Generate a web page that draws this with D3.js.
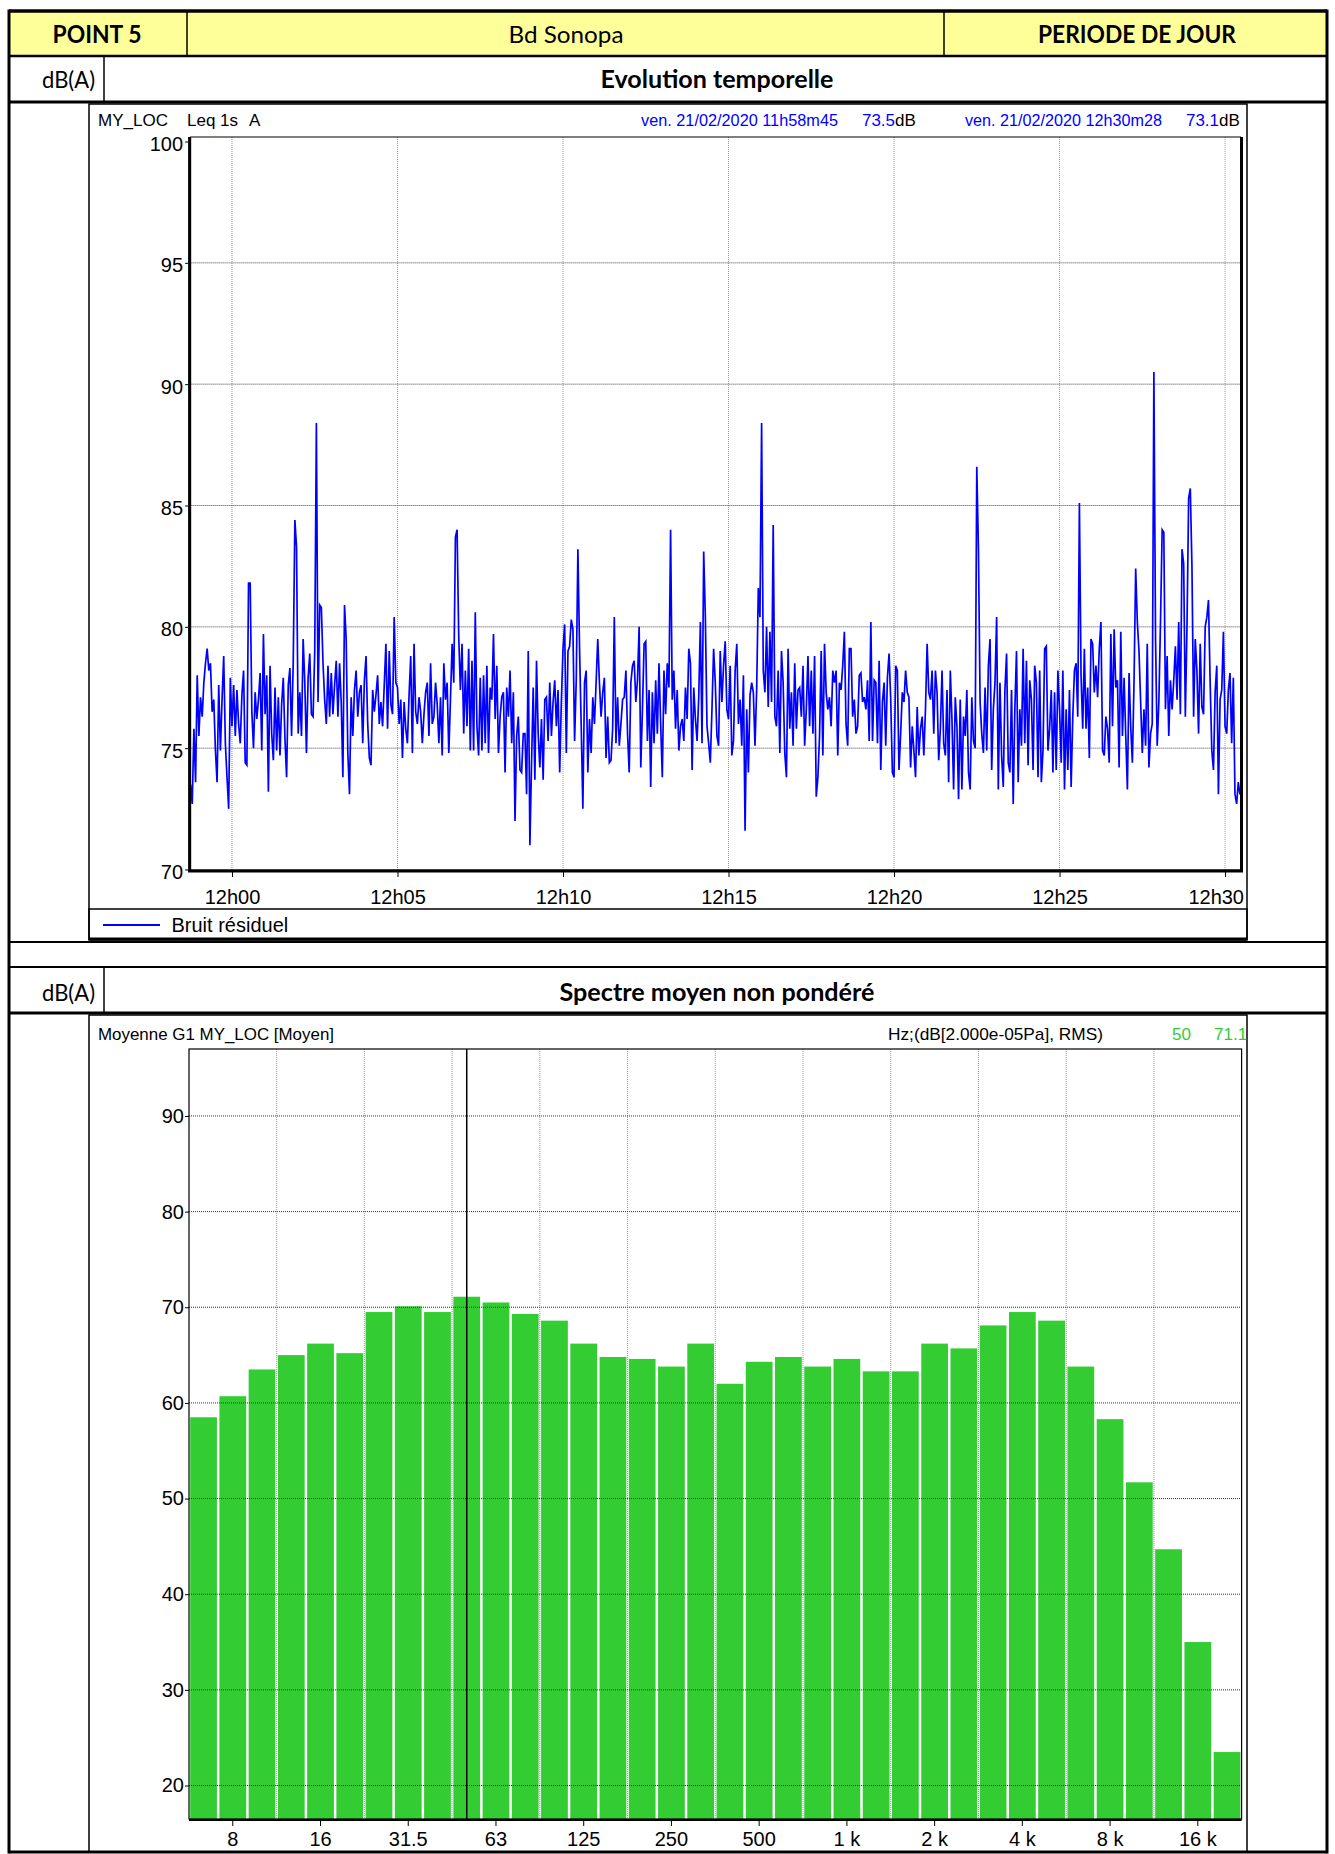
<!DOCTYPE html>
<html><head><meta charset="utf-8">
<script src="https://cdn.jsdelivr.net/npm/d3@7"></script>
<style>
html,body{margin:0;padding:0;background:#fff;}
svg{display:block;}
</style></head>
<body>
<svg id="page" width="1335" height="1854"></svg>
<script>
// ---------- sheet header ----------
const pointLabel = "POINT 5";
const siteLabel = "Bd Sonopa";
const periodLabel = "PERIODE DE JOUR";
const unitLabel = "dB(A)";
const timeTitle = "Evolution temporelle";
const spectrumTitle = "Spectre moyen non pondéré";

// ---------- time history (Leq 1s, A-weighted) ----------
const timeHeader = ["MY_LOC", "Leq 1s", "A"];
const cursorA = {date: "ven. 21/02/2020 11h58m45", level: "73.5"};
const cursorB = {date: "ven. 21/02/2020 12h30m28", level: "73.1"};
const startTime = "2020-02-21T11:58:45";
const endTime = "2020-02-21T12:30:28";
const sampleStep = 3; // seconds between stored levels
const leqLevels = [
 73.5,72.7,75.8,73.6,78.0,75.5,77.1,76.3,77.7,78.5,
 79.1,78.2,78.5,76.5,77.0,74.9,73.6,77.6,74.9,77.0,
 78.8,75.2,73.8,72.5,77.9,75.9,77.6,75.5,77.4,76.0,
 75.2,77.2,78.2,74.4,74.3,81.8,81.8,76.5,75.0,77.3,
 76.2,77.0,78.1,74.9,79.7,76.4,78.0,73.2,78.4,75.6,
 74.5,77.5,74.9,77.1,74.7,76.8,77.9,75.4,73.8,77.6,
 78.3,75.5,78.5,84.4,83.3,75.6,77.3,75.5,79.5,77.7,
 74.8,77.9,78.9,76.4,76.3,79.0,88.4,76.9,80.9,80.8,
 78.5,77.0,76.0,78.4,76.3,78.1,76.4,77.6,78.6,76.3,
 78.5,76.9,73.8,80.9,79.5,74.8,73.1,77.1,75.5,77.4,
 78.2,76.3,77.3,77.6,75.2,77.8,78.8,76.0,74.6,74.3,
 77.4,76.5,77.2,78.0,76.0,76.9,75.9,77.6,79.3,75.8,
 79.0,76.8,76.4,80.4,77.7,77.5,76.0,77.0,74.6,76.9,
 75.8,75.2,77.2,78.8,74.8,79.3,76.5,76.0,77.1,76.5,
 75.2,76.4,77.3,77.7,75.5,78.5,76.0,76.3,77.7,76.8,
 75.2,77.1,74.7,78.5,77.0,77.7,74.8,77.0,79.3,77.7,
 83.7,84.0,79.6,77.4,79.3,75.6,78.2,75.9,79.1,74.9,
 78.6,74.9,80.6,75.9,74.7,77.9,74.9,78.0,75.2,78.4,
 74.8,77.5,77.0,79.7,76.2,78.4,74.8,76.3,77.1,77.3,
 74.0,77.5,76.3,78.2,75.2,77.3,72.0,75.5,76.3,74.1,
 74.0,75.6,75.6,73.1,79.0,71.0,74.4,77.5,73.7,78.6,
 75.6,74.2,76.2,73.7,77.0,77.1,75.3,77.7,75.5,76.9,
 77.8,75.9,77.4,74.0,76.9,79.1,80.1,74.8,79.0,79.2,
 80.3,79.9,75.3,77.8,83.2,79.1,75.9,72.5,77.7,78.2,
 74.0,76.2,74.8,77.1,76.0,77.7,79.5,77.7,76.3,77.3,
 77.9,74.6,76.3,74.4,74.5,75.8,80.4,75.2,77.1,75.1,
 76.0,77.0,77.1,78.2,75.6,74.0,77.7,78.4,78.6,76.9,
 77.8,80.0,74.2,76.6,79.3,79.4,75.3,77.4,73.4,77.3,
 75.2,77.8,75.6,78.5,76.0,73.8,78.2,76.4,78.5,77.5,
 84.0,77.0,78.2,75.8,77.4,74.9,75.9,76.2,75.3,77.5,
 76.2,79.1,78.5,74.1,77.5,76.2,75.3,77.1,80.2,75.2,
 83.1,80.4,75.9,75.2,74.4,76.6,79.1,77.7,75.5,75.1,
 79.0,76.9,78.4,79.4,76.6,76.2,78.4,74.7,75.3,78.2,
 79.3,76.0,77.0,75.1,78.0,71.6,76.6,74.0,77.2,77.7,
 77.3,75.1,77.4,81.6,80.4,88.4,78.2,77.3,80.0,76.7,
 79.8,76.9,84.2,76.3,75.9,78.2,74.8,79.0,77.7,74.8,
 73.8,79.1,75.8,77.3,75.1,78.5,75.8,77.4,77.5,76.3,
 78.4,75.1,76.6,78.8,75.9,78.2,75.6,78.8,73.0,73.8,
 75.5,79.0,74.7,79.3,77.3,76.6,77.1,75.9,78.2,77.7,
 78.2,74.7,77.7,77.4,78.4,79.8,76.0,75.1,79.1,79.1,
 76.3,77.0,75.6,75.9,78.0,78.1,76.9,77.1,76.6,77.8,
 75.3,80.2,75.3,77.8,77.7,75.2,78.6,74.1,76.9,77.7,
 75.1,77.9,78.9,77.0,74.0,73.8,78.4,78.2,74.1,75.6,
 77.3,76.9,78.2,77.3,77.1,74.2,75.9,74.9,73.8,76.7,
 74.7,75.8,76.3,74.7,76.6,79.3,77.3,77.0,78.2,75.6,
 78.2,77.3,74.5,75.8,78.2,75.2,74.7,77.4,73.6,78.2,
 76.2,73.3,77.1,75.9,72.9,77.0,73.3,76.3,75.5,77.4,
 74.0,73.3,77.1,75.3,75.0,86.6,83.2,76.9,75.6,74.8,
 77.5,74.9,78.4,79.5,74.1,76.6,77.7,80.4,73.3,77.7,
 74.7,73.4,77.4,78.9,74.4,74.0,77.4,72.7,76.6,79.0,
 73.6,76.6,75.1,79.1,75.2,78.6,74.3,77.8,77.0,74.1,
 78.4,77.7,73.8,78.2,73.6,74.9,79.1,79.2,74.9,75.8,
 77.4,74.0,77.3,74.1,78.2,76.6,74.4,78.2,73.3,76.6,
 74.1,77.4,73.4,76.3,78.2,78.5,76.3,85.1,78.0,75.8,
 79.1,75.8,77.5,74.6,79.5,79.3,77.3,78.4,77.1,79.1,
 80.2,74.9,74.7,76.3,75.8,74.4,79.7,75.9,79.9,77.5,
 77.8,74.2,79.8,75.5,77.9,75.5,73.3,78.1,75.9,74.4,
 77.7,82.4,80.2,79.0,76.9,74.8,76.6,75.1,79.3,74.2,
 75.6,76.0,90.5,79.5,75.1,76.9,80.2,84.0,83.9,76.6,
 78.8,75.5,77.8,76.6,77.8,79.2,77.0,80.2,76.4,83.2,
 82.6,76.3,80.0,85.3,85.7,82.5,76.3,79.5,78.2,75.6,
 79.3,76.7,76.4,80.0,80.4,81.1,77.7,74.9,74.1,77.3,
 78.4,73.1,77.0,77.4,79.8,75.9,75.6,77.4,78.1,75.2,
 77.9,73.1,72.7,73.6,73.1
];
const levelTicks = [70, 75, 80, 85, 90, 95, 100];
const legendLabel = "Bruit résiduel";

// ---------- mean third-octave spectrum ----------
const spectrumHeader = "Moyenne G1 MY_LOC [Moyen]";
const spectrumUnits = "Hz;(dB[2.000e-05Pa], RMS)";
const bands = ["6.3","8","10","12.5","16","20","25","31.5","40","50","63","80",
  "100","125","160","200","250","315","400","500","630","800","1 k","1.25 k",
  "1.6 k","2 k","2.5 k","3.15 k","4 k","5 k","6.3 k","8 k","10 k","12.5 k","16 k","20 k"];
const bandLevels = [58.5,60.7,63.5,65.0,66.2,65.2,69.5,70.1,69.5,71.1,70.5,69.3,
  68.6,66.2,64.8,64.6,63.8,66.2,62.0,64.3,64.8,63.8,64.6,63.3,
  63.3,66.2,65.7,68.1,69.5,68.6,63.8,58.3,51.7,44.7,35.0,23.5];
const bandTickLabels = ["8","16","31.5","63","125","250","500","1 k","2 k","4 k","8 k","16 k"];
const spectrumTicks = [20, 30, 40, 50, 60, 70, 80, 90];
const cursorBand = "50";

// ---------- drawing ----------
const svg = d3.select("#page");
const FT = "Lato, 'Open Sans', sans-serif";
const FC = "'Liberation Sans', Arial, sans-serif";
const BLUE = "#0000ff", GREEN = "#33cc33";

// sheet grid
const L = 9, R = 1327;
const rows = {top: 11, r1: 56, r2: 102, r3: 942, r4: 967, r5: 1013, bottom: 1852};
svg.append("rect").attr("x", L).attr("y", rows.top).attr("width", R - L).attr("height", rows.r1 - rows.top)
  .attr("fill", "#ffff99");

function hline(y, w, x0 = L, x1 = R) {
  svg.append("line").attr("x1", x0).attr("x2", x1).attr("y1", y).attr("y2", y)
    .attr("stroke", "#000").attr("stroke-width", w);
}
function vline(x, y0, y1, w) {
  svg.append("line").attr("x1", x).attr("x2", x).attr("y1", y0).attr("y2", y1)
    .attr("stroke", "#000").attr("stroke-width", w);
}
hline(rows.top, 3.5);
hline(rows.r1, 2.5);
hline(rows.r2, 3);
hline(rows.r3, 2);
hline(rows.r4, 2);
hline(rows.r5, 3);
hline(rows.bottom, 3);
vline(L, rows.top - 1.5, rows.bottom + 1.5, 3);
vline(R, rows.top - 1.5, rows.bottom + 1.5, 3);
vline(187, rows.top, rows.r1, 1.5);
vline(944, rows.top, rows.r1, 1.5);
vline(104, rows.r1, rows.r2, 1.5);
vline(104, rows.r4, rows.r5, 1.5);

// cell text, stretched to the width the sheet gives it
function cellText(txt, x, y, width, opts = {}) {
  return svg.append("text").attr("x", x).attr("y", y)
    .attr("text-anchor", opts.anchor || "middle")
    .attr("font-family", FT).attr("font-size", opts.size || 24)
    .attr("font-weight", opts.bold ? "bold" : "normal")
    .attr("textLength", width).attr("lengthAdjust", "spacingAndGlyphs")
    .attr("fill", "#000").text(txt);
}
cellText(pointLabel, 97, 43, 89, {bold: true});
cellText(siteLabel, 566, 43, 115);
cellText(periodLabel, 1137, 43, 198, {bold: true});
cellText(unitLabel, 95, 88, 53, {anchor: "end"});
cellText(timeTitle, 717, 88, 233, {bold: true});
cellText(unitLabel, 95, 1001, 53, {anchor: "end"});
cellText(spectrumTitle, 717, 1001, 315, {bold: true});

// ===== time history panel =====
const p1 = {x0: 89, x1: 1247, y0: 104, y1: 940};
svg.append("rect").attr("x", p1.x0).attr("y", p1.y0).attr("width", p1.x1 - p1.x0).attr("height", p1.y1 - p1.y0)
  .attr("fill", "none").attr("stroke", "#000").attr("stroke-width", 1.5);

const parse = d3.isoParse;
const t0 = parse(startTime), t1 = parse(endTime);
const series = leqLevels.map((v, i) => ({t: new Date(t0.getTime() + i * sampleStep * 1000), v}));

const x1s = d3.scaleTime().domain([t0, t1]).range([190.6, 1240.5]);
const y1s = d3.scaleLinear().domain([70, 100]).range([869.5, 141.5]);
const plot1 = {left: 190.6, right: 1240.5, top: 137, bottom: 870};

// grid
const g1 = svg.append("g");
const minuteTicks = x1s.ticks(d3.timeMinute.every(5));
g1.selectAll(".vg").data(minuteTicks).join("line")
  .attr("x1", d => x1s(d)).attr("x2", d => x1s(d)).attr("y1", plot1.top).attr("y2", plot1.bottom)
  .attr("stroke", "#999").attr("stroke-width", 1).attr("stroke-dasharray", "1,1");
g1.selectAll(".hg").data(levelTicks.filter(d => d > 70 && d < 100)).join("line")
  .attr("x1", plot1.left).attr("x2", plot1.right).attr("y1", d => y1s(d)).attr("y2", d => y1s(d))
  .attr("stroke", "#444").attr("stroke-width", 1).attr("stroke-dasharray", "1,1");

// series
svg.append("path").datum(series)
  .attr("d", d3.line().x(d => x1s(d.t)).y(d => y1s(d.v)))
  .attr("fill", "none").attr("stroke", BLUE).attr("stroke-width", 1.7).attr("stroke-linejoin", "miter");

// frame
svg.append("rect").attr("x", plot1.left).attr("y", plot1.top)
  .attr("width", plot1.right - plot1.left).attr("height", plot1.bottom - plot1.top)
  .attr("fill", "none").attr("stroke", "#000").attr("stroke-width", 1);
vline(plot1.left - 1, plot1.top, plot1.bottom + 1, 3);
vline(plot1.right + 1, plot1.top, plot1.bottom + 1, 3);
hline(plot1.bottom + 1, 3, plot1.left - 2.5, plot1.right + 2.5);

// axes
const xAxis1 = svg.append("g").attr("transform", `translate(0,${plot1.bottom + 2})`)
  .call(d3.axisBottom(x1s).ticks(d3.timeMinute.every(5)).tickFormat(d3.timeFormat("%Hh%M")).tickSize(5));
xAxis1.select(".domain").remove();
xAxis1.selectAll("text").attr("font-family", FC).attr("font-size", 20).attr("dy", "0.3em").attr("y", 26);
// the last label is kept inside the plot frame
xAxis1.selectAll(".tick").filter((d, i, n) => i === n.length - 1).select("text")
  .attr("text-anchor", "end").attr("x", plot1.right - x1s(minuteTicks[minuteTicks.length - 1]) + 3);
const yAxis1 = svg.append("g").attr("transform", `translate(${plot1.left - 2.5},0)`)
  .call(d3.axisLeft(y1s).tickValues(levelTicks).tickSize(3).tickPadding(2));
yAxis1.select(".domain").remove();
yAxis1.selectAll("text").attr("font-family", FC).attr("font-size", 20).attr("dy", "0.45em");

// header line
function chartText(txt, x, y, color, size, anchor) {
  return svg.append("text").attr("x", x).attr("y", y).attr("fill", color)
    .attr("font-family", FC).attr("font-size", size).attr("text-anchor", anchor || "start").text(txt);
}
chartText(timeHeader[0], 98, 126, "#000", 17);
chartText(timeHeader[1], 187, 126, "#000", 17);
chartText(timeHeader[2], 249, 126, "#000", 17);
chartText(cursorA.date, 641, 126, BLUE, 17).attr("textLength", 197).attr("lengthAdjust", "spacingAndGlyphs");
chartText(cursorA.level, 862, 126, BLUE, 17).attr("textLength", 33).attr("lengthAdjust", "spacingAndGlyphs");
chartText("dB", 895, 126, "#000", 17);
chartText(cursorB.date, 965, 126, BLUE, 17).attr("textLength", 197).attr("lengthAdjust", "spacingAndGlyphs");
chartText(cursorB.level, 1186, 126, BLUE, 17).attr("textLength", 33).attr("lengthAdjust", "spacingAndGlyphs");
chartText("dB", 1219, 126, "#000", 17);

// legend
svg.append("rect").attr("x", p1.x0).attr("y", 909).attr("width", p1.x1 - p1.x0).attr("height", 30)
  .attr("fill", "none").attr("stroke", "#000").attr("stroke-width", 1.5);
hline(939, 3, p1.x0, p1.x1);
svg.append("line").attr("x1", 103).attr("x2", 160).attr("y1", 925).attr("y2", 925)
  .attr("stroke", BLUE).attr("stroke-width", 2);
chartText(legendLabel, 171.5, 932, "#000", 20);

// ===== spectrum panel =====
const p2 = {x0: 89, x1: 1247, y0: 1015, y1: 1852};
svg.append("rect").attr("x", p2.x0).attr("y", p2.y0).attr("width", p2.x1 - p2.x0).attr("height", p2.y1 - p2.y0)
  .attr("fill", "none").attr("stroke", "#000").attr("stroke-width", 1.5);
const plot2 = {left: 189, right: 1241.6, top: 1049, bottom: 1819};
const x2s = d3.scaleBand().domain(bands).range([plot2.left, plot2.right]).paddingInner(0.085).paddingOuter(0.04);
const y2s = d3.scaleLinear().domain([16.5, 97]).range([plot2.bottom, plot2.top]);
const step = x2s.step();

// vertical grid at every third band boundary (octave edges)
const octaveEdges = bands.filter((b, i) => i > 0 && i % 3 === 0);
svg.selectAll(".v2").data(octaveEdges).join("line")
  .attr("x1", d => x2s(d) - step * 0.0425).attr("x2", d => x2s(d) - step * 0.0425)
  .attr("y1", plot2.top).attr("y2", plot2.bottom)
  .attr("stroke", "#999").attr("stroke-width", 1).attr("stroke-dasharray", "1,1");

// bars
svg.selectAll(".bar").data(bands).join("rect")
  .attr("x", d => x2s(d)).attr("width", x2s.bandwidth())
  .attr("y", (d, i) => y2s(bandLevels[i]))
  .attr("height", (d, i) => plot2.bottom - y2s(bandLevels[i]))
  .attr("fill", GREEN);

// horizontal grid over bars
svg.selectAll(".h2").data(spectrumTicks).join("line")
  .attr("x1", plot2.left).attr("x2", plot2.right).attr("y1", d => y2s(d)).attr("y2", d => y2s(d))
  .attr("stroke", "#333").attr("stroke-width", 1).attr("stroke-dasharray", "1,1");

// cursor at 50 Hz
const cx = x2s(cursorBand) + x2s.bandwidth() / 2;
vline(cx, plot2.top, plot2.bottom, 1.5);

// frame
svg.append("rect").attr("x", plot2.left).attr("y", plot2.top)
  .attr("width", plot2.right - plot2.left).attr("height", plot2.bottom - plot2.top)
  .attr("fill", "none").attr("stroke", "#000").attr("stroke-width", 1.2);
hline(plot2.bottom + 1, 2, plot2.left, plot2.right);

const xAxis2 = svg.append("g").attr("transform", `translate(0,${plot2.bottom + 1})`)
  .call(d3.axisBottom(x2s).tickValues(bandTickLabels).tickSize(6).tickPadding(3));
xAxis2.select(".domain").remove();
xAxis2.selectAll("text").attr("font-family", FC).attr("font-size", 20).attr("y", 12);
const yAxis2 = svg.append("g").attr("transform", `translate(${plot2.left},0)`)
  .call(d3.axisLeft(y2s).tickValues(spectrumTicks).tickSize(4).tickPadding(1));
yAxis2.select(".domain").remove();
yAxis2.selectAll("text").attr("font-family", FC).attr("font-size", 20);

chartText(spectrumHeader, 98, 1040, "#000", 17).attr("textLength", 236).attr("lengthAdjust", "spacingAndGlyphs");
chartText(spectrumUnits, 888, 1040, "#000", 17).attr("textLength", 215).attr("lengthAdjust", "spacingAndGlyphs");
chartText(cursorBand, 1172, 1040, GREEN, 17);
chartText(bandLevels[bands.indexOf(cursorBand)].toFixed(1), 1214, 1040, GREEN, 17);
</script>
</body></html>
